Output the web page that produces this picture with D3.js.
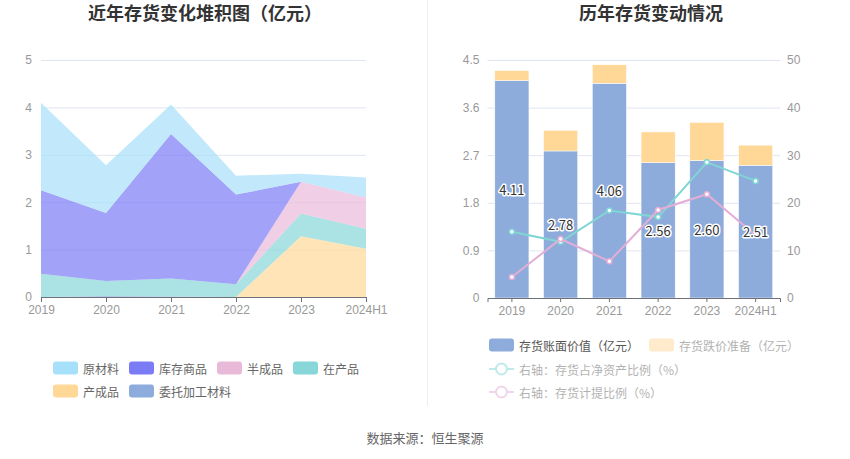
<!DOCTYPE html>
<html>
<head>
<meta charset="utf-8">
<script src="https://cdn.jsdelivr.net/npm/d3@7"></script>
<style>
  body { margin: 0; background: #fff; }
  svg { font-family: "Noto Sans CJK SC", "Noto Sans", sans-serif; }
  .axis text { fill: #999; font-size: 12px; }
</style>
</head>
<body>
<script>
const years = ['2019', '2020', '2021', '2022', '2023', '2024H1']

// left chart: inventory breakdown (亿元)
const rawMaterial = [1.85, 1.01, 0.62, 0.40, 0.17, 0.42]
const stockGoods = [1.76, 1.43, 3.05, 1.89, 0, 0]
const semiFinished = [0, 0, 0, 0, 0.67, 0.66]
const workInProgress = [0.49, 0.32, 0.38, 0.27, 0.48, 0.42]
const finishedGoods = [0, 0, 0, 0, 1.28, 1.02]
const consignedMaterial = [0, 0.02, 0.01, 0, 0, 0]
const leftTicks = [0, 1, 2, 3, 4, 5]

// right chart
const bookValue = [4.11, 2.78, 4.06, 2.56, 2.60, 2.51]
const provision = [0.19, 0.39, 0.35, 0.58, 0.72, 0.38]
const netAssetRatio = [13.9, 11.8, 18.4, 17.0, 28.5, 24.6]
const provisionRatio = [4.4, 12.4, 7.7, 18.5, 21.8, 13.2]
const barTicks = [0, 0.9, 1.8, 2.7, 3.6, 4.5]
const ratioTicks = [0, 10, 20, 30, 40, 50]

const w = 850
const h = 459

const svg = d3.select('body')
    .append('svg')
        .attr('width', w)
        .attr('height', h)

// titles, divider, source
svg.append('text')
    .attr('x', 205)
    .attr('y', 20)
    .attr('text-anchor', 'middle')
    .attr('font-size', 18)
    .attr('font-weight', 'bold')
    .attr('fill', '#333')
    .text('近年存货变化堆积图（亿元）')

svg.append('text')
    .attr('x', 651)
    .attr('y', 20)
    .attr('text-anchor', 'middle')
    .attr('font-size', 18)
    .attr('font-weight', 'bold')
    .attr('fill', '#333')
    .text('历年存货变动情况')

svg.append('line')
    .attr('x1', 427.5).attr('x2', 427.5)
    .attr('y1', 0).attr('y2', 406)
    .attr('stroke', '#eee')

svg.append('text')
    .attr('x', 425)
    .attr('y', 443)
    .attr('text-anchor', 'middle')
    .attr('font-size', 13)
    .attr('fill', '#666')
    .text('数据来源：恒生聚源')

// ---------- left chart: stacked area ----------

const areaSeries = [
    { name: '委托加工材料', values: consignedMaterial, color: '#8eacdb' },
    { name: '产成品', values: finishedGoods, color: '#ffd898' },
    { name: '在产品', values: workInProgress, color: '#87d6d8' },
    { name: '半成品', values: semiFinished, color: '#e9b9da' },
    { name: '库存商品', values: stockGoods, color: '#7b7bf5' },
    { name: '原材料', values: rawMaterial, color: '#a6e0fa' }
]

const areaTable = years.map((year, i) => {
    const row = { year }
    areaSeries.forEach(s => { row[s.name] = s.values[i] })
    return row
})

const areaStack = d3.stack().keys(areaSeries.map(s => s.name))(areaTable)

const xLeft = d3.scalePoint()
    .domain(years)
    .range([41, 366])

const yLeft = d3.scaleLinear()
    .domain([0, 5])
    .range([297, 60])

svg.append('g')
    .attr('class', 'axis')
    .attr('transform', 'translate(41, 0)')
    .call(d3.axisLeft(yLeft).tickValues(leftTicks).tickFormat(d3.format('d')).tickSize(-325).tickPadding(9))
    .call(g => g.select('.domain').remove())
    .call(g => g.selectAll('line').attr('stroke', '#e0e6f1'))

const area = d3.area()
    .x(d => xLeft(d.data.year))
    .y0(d => yLeft(d[0]))
    .y1(d => yLeft(d[1]))

svg.append('g')
    .selectAll('path')
    .data(areaStack)
    .enter()
    .append('path')
        .attr('d', area)
        .attr('fill', (d, i) => areaSeries[i].color)
        .attr('fill-opacity', 0.7)

svg.append('g')
    .attr('class', 'axis')
    .attr('transform', 'translate(0, 297)')
    .call(d3.axisBottom(xLeft).tickSizeOuter(0).tickSize(5).tickPadding(3))
    .call(g => g.selectAll('.domain, line').attr('stroke', '#6e7079'))

// left legend
const leftLegendOrder = ['原材料', '库存商品', '半成品', '在产品', '产成品', '委托加工材料']
const leftLegendRows = [leftLegendOrder.slice(0, 4), leftLegendOrder.slice(4)]

leftLegendRows.forEach((row, r) => {
    let x = 53
    row.forEach(name => {
        const s = areaSeries.find(a => a.name === name)
        const g = svg.append('g').attr('transform', `translate(${x}, ${368 + r * 23})`)
        g.append('rect')
            .attr('x', 0).attr('y', -6.5)
            .attr('width', 25).attr('height', 13)
            .attr('rx', 3)
            .attr('fill', s.color)
        g.append('text')
            .attr('x', 30)
            .attr('y', 0)
            .attr('dominant-baseline', 'central')
            .attr('font-size', 12)
            .attr('fill', '#666')
            .text(name)
        x += 30 + name.length * 12 + 10
    })
})

// ---------- right chart: bars + lines ----------

const barTable = years.map((year, i) => ({ year, book: bookValue[i], provision: provision[i] }))
const barStack = d3.stack().keys(['book', 'provision'])(barTable)
const barColors = ['#8eacdb', '#ffd898']

const xRight = d3.scaleBand()
    .domain(years)
    .range([487.5, 780])
    .paddingInner(0.3)
    .paddingOuter(0.15)

const yBar = d3.scaleLinear()
    .domain([0, 4.5])
    .range([298, 60])

const yRatio = d3.scaleLinear()
    .domain([0, 50])
    .range([298, 60])

svg.append('g')
    .attr('class', 'axis')
    .attr('transform', 'translate(487.5, 0)')
    .call(d3.axisLeft(yBar).tickValues(barTicks).tickFormat(d => d === 0 ? '0' : d3.format('.1f')(d)).tickSize(-292.5).tickPadding(8))
    .call(g => g.select('.domain').remove())
    .call(g => g.selectAll('line').attr('stroke', '#e0e6f1'))

svg.append('g')
    .attr('class', 'axis')
    .attr('transform', 'translate(780, 0)')
    .call(d3.axisRight(yRatio).tickValues(ratioTicks).tickSize(0).tickPadding(7))
    .call(g => g.select('.domain').remove())

svg.append('g')
    .selectAll('g')
    .data(barStack)
    .enter()
    .append('g')
        .attr('fill', (d, i) => barColors[i])
    .selectAll('rect')
    .data(d => d)
    .enter()
    .append('rect')
        .attr('x', d => xRight(d.data.year))
        .attr('y', d => yBar(d[1]))
        .attr('width', xRight.bandwidth())
        .attr('height', d => yBar(d[0]) - yBar(d[1]))
        .attr('stroke', '#fff')
        .attr('stroke-width', 0.5)

svg.append('g')
    .attr('class', 'axis')
    .attr('transform', 'translate(0, 298)')
    .call(d3.axisBottom(xRight).tickSizeOuter(0).tickSize(4).tickPadding(4))
    .call(g => g.selectAll('.domain, line').attr('stroke', '#6e7079'))

const lineSeries = [
    { name: '右轴：存货占净资产比例（%）', values: netAssetRatio, color: '#7fd6d4' },
    { name: '右轴：存货计提比例（%）', values: provisionRatio, color: '#e3aed6' }
]

const line = d3.line()
    .x((d, i) => xRight(years[i]) + xRight.bandwidth() / 2)
    .y(d => yRatio(d))

lineSeries.forEach(s => {
    svg.append('path')
        .attr('d', line(s.values))
        .attr('fill', 'none')
        .attr('stroke', s.color)
        .attr('stroke-width', 2)
    svg.append('g')
        .selectAll('circle')
        .data(s.values)
        .enter()
        .append('circle')
            .attr('cx', (d, i) => xRight(years[i]) + xRight.bandwidth() / 2)
            .attr('cy', d => yRatio(d))
            .attr('r', 2.5)
            .attr('fill', '#fff')
            .attr('stroke', s.color)
            .attr('stroke-width', 1.5)
})

// book value labels in the middle of the blue bars
svg.append('g')
    .selectAll('text')
    .data(barStack[0])
    .enter()
    .append('text')
        .attr('x', d => xRight(d.data.year) + xRight.bandwidth() / 2)
        .attr('y', d => yBar(d[1] / 2))
        .attr('text-anchor', 'middle')
        .attr('dominant-baseline', 'central')
        .attr('font-size', 13)
        .attr('fill', '#333')
        .attr('stroke', '#fff')
        .attr('stroke-width', 3)
        .attr('paint-order', 'stroke')
        .attr('stroke-linejoin', 'round')
        .text(d => d.data.book.toFixed(2))

// right legend
const rightLegend = [
    { name: '存货账面价值（亿元）', type: 'rect', color: barColors[0], x: 489, y: 345, opacity: 1 },
    { name: '存货跌价准备（亿元）', type: 'rect', color: barColors[1], x: 649, y: 345, opacity: 0.5 },
    { name: lineSeries[0].name, type: 'line', color: lineSeries[0].color, x: 489, y: 369, opacity: 0.5 },
    { name: lineSeries[1].name, type: 'line', color: lineSeries[1].color, x: 489, y: 392, opacity: 0.5 }
]

rightLegend.forEach(item => {
    const g = svg.append('g')
        .attr('transform', `translate(${item.x}, ${item.y})`)
        .attr('opacity', item.opacity)
    if (item.type === 'rect') {
        g.append('rect')
            .attr('x', 0).attr('y', -6.5)
            .attr('width', 25).attr('height', 13)
            .attr('rx', 3)
            .attr('fill', item.color)
    } else {
        g.append('line')
            .attr('x1', 0).attr('x2', 25)
            .attr('y1', 0).attr('y2', 0)
            .attr('stroke', item.color)
            .attr('stroke-width', 2)
        g.append('circle')
            .attr('cx', 12.5).attr('cy', 0)
            .attr('r', 5.5)
            .attr('fill', '#fff')
            .attr('stroke', item.color)
            .attr('stroke-width', 2)
    }
    g.append('text')
        .attr('x', 30)
        .attr('y', 0)
        .attr('dominant-baseline', 'central')
        .attr('font-size', 12)
        .attr('fill', item.opacity === 1 ? '#555' : '#666')
        .text(item.name)
})
</script>
</body>
</html>
